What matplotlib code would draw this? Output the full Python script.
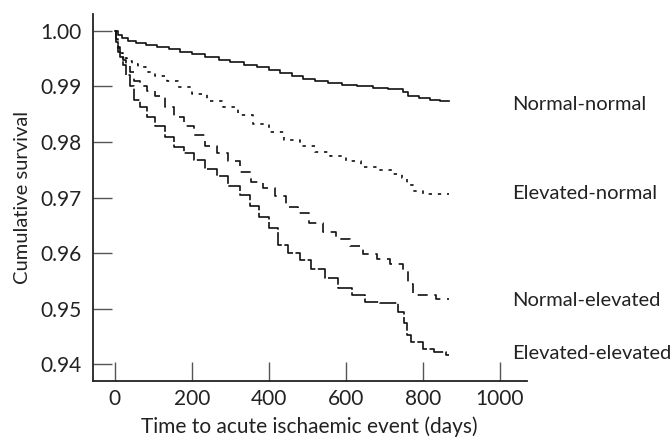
import matplotlib
matplotlib.use("Agg")
import matplotlib.pyplot as plt
import numpy as np

# step points (day, cumulative survival)
nn_days = [0, 8, 20, 35, 55, 80, 110, 140, 170, 200, 235, 270, 300, 335, 370, 400, 430, 460,
           490, 520, 555, 590, 630, 670, 710, 748, 762, 790, 818, 845, 868]
nn_vals = [1.0, 0.9993, 0.9987, 0.9982, 0.9977, 0.9974, 0.9971, 0.9967, 0.9962, 0.9958, 0.9953,
           0.9948, 0.9944, 0.9939, 0.9934, 0.9929, 0.9924, 0.9919, 0.9914, 0.991, 0.9906, 0.9903,
           0.9900, 0.9897, 0.9895, 0.989, 0.9882, 0.9879, 0.9875, 0.9873, 0.9873]

en_days = [0, 3, 8, 14, 22, 32, 45, 60, 80, 105, 135, 165, 200, 240, 280, 320, 360, 400, 440,
           480, 520, 560, 600, 640, 680, 720, 745, 760, 775, 800, 868]
en_vals = [1.0, 0.9985, 0.997, 0.996, 0.995, 0.9945, 0.994, 0.9934, 0.9926, 0.9918, 0.991,
           0.9899, 0.9886, 0.9873, 0.9862, 0.9849, 0.9833, 0.9818, 0.9804, 0.9793, 0.9782,
           0.9774, 0.9766, 0.9755, 0.9749, 0.9743, 0.9735, 0.9722, 0.9712, 0.9707, 0.9707]

ne_days = [0, 3, 8, 14, 22, 30, 40, 50, 65, 85, 105, 130, 155, 180, 205, 235, 265, 295, 325,
           355, 385, 415, 445, 475, 505, 540, 575, 610, 645, 680, 715, 748, 762, 775, 835, 868]
ne_vals = [1.0, 0.9985, 0.9968, 0.9958, 0.9948, 0.994, 0.9925, 0.991, 0.99, 0.9892, 0.9882,
           0.9862, 0.9845, 0.9828, 0.9812, 0.9792, 0.978, 0.9765, 0.9746, 0.9728, 0.9718,
           0.9703, 0.9683, 0.9672, 0.9655, 0.9638, 0.9625, 0.9612, 0.9598, 0.959, 0.958,
           0.9568, 0.9545, 0.9525, 0.9517, 0.9517]

ee_days = [0, 3, 8, 14, 22, 30, 40, 50, 65, 85, 105, 130, 155, 180, 205, 235, 265, 295, 325,
           350, 375, 400, 425, 450, 480, 510, 545, 580, 615, 650, 690, 735, 750, 760, 770, 800,
           830, 860, 868]
ee_vals = [1.0, 0.998, 0.9962, 0.9952, 0.9938, 0.992, 0.99, 0.9876, 0.9862, 0.9845, 0.9828,
           0.9808, 0.979, 0.978, 0.9768, 0.9752, 0.9738, 0.972, 0.9705, 0.9685, 0.9665, 0.9645,
           0.9615, 0.96, 0.9588, 0.9572, 0.9555, 0.9538, 0.9525, 0.9512, 0.951, 0.9495, 0.9475,
           0.9452, 0.944, 0.9428, 0.9422, 0.9416, 0.9416]

labels = ["Normal-normal", "Elevated-normal", "Normal-elevated", "Elevated-elevated"]
label_y = [0.9868, 0.9707, 0.9515, 0.942]

plt.rcParams['font.family'] = ['Lato', 'DejaVu Sans']
txt = "#222222"
fs = 14.5

fig = plt.figure(figsize=(6.72, 4.37), dpi=100)
ax = fig.add_axes([0.138, 0.128, 0.646, 0.84])

ax.plot(nn_days, nn_vals, drawstyle="steps-post", color="#111111", lw=1.2)
ax.plot(en_days, en_vals, drawstyle="steps-post", color="#111111", lw=1.2,
        dashes=(2, 3.5))
ax.plot(ne_days, ne_vals, drawstyle="steps-post", color="#111111", lw=1.2,
        dashes=(6, 4))
ax.plot(ee_days, ee_vals, drawstyle="steps-post", color="#111111", lw=1.2,
        dashes=(10, 1.5))

for lab, yv in zip(labels, label_y):
    ax.text(1032, yv, lab, fontsize=fs, color=txt, va="center", ha="left", clip_on=False)

ax.set_xlim(-57, 1070)
ax.set_ylim(0.937, 1.003)
ax.set_xticks([0, 200, 400, 600, 800, 1000])
ax.set_yticks([0.94, 0.95, 0.96, 0.97, 0.98, 0.99, 1.00])
ax.set_yticklabels(["0.94", "0.95", "0.96", "0.97", "0.98", "0.99", "1.00"])
ax.tick_params(direction="in", length=14, width=1, colors="#555555",
               labelcolor=txt, labelsize=15, pad=6)
ax.tick_params(axis="y", pad=8)
ax.spines["top"].set_visible(False)
ax.spines["right"].set_visible(False)
for s in ["left", "bottom"]:
    ax.spines[s].set_linewidth(1.3)
    ax.spines[s].set_color("#222222")

ax.set_xlabel("Time to acute ischaemic event (days)", fontsize=fs + 0.5, color=txt, labelpad=5)
ax.set_ylabel("Cumulative survival", fontsize=fs, color=txt, labelpad=7)

fig.savefig("out.png", dpi=100)
